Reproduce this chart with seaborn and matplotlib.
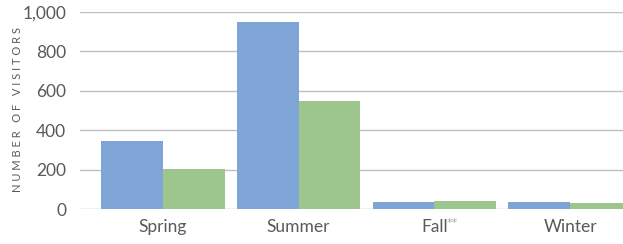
import pandas as pd
import matplotlib.pyplot as plt
import seaborn as sns

# Visitor counts
seasons = ["Spring", "Summer", "Fall", "Winter"]
series_a = [345, 950, 35, 35]
series_b = [205, 550, 40, 30]
yticks = [0, 200, 400, 600, 800, 1000]
ytick_labels = ["0", "200", "400", "600", "800", "1,000"]

data = pd.DataFrame({
    "Season": seasons * 2,
    "Visitors": series_a + series_b,
    "Group": ["A"] * 4 + ["B"] * 4,
})

sns.set_style("white")
plt.rcParams["font.family"] = ["Lato", "DejaVu Sans"]

fig = plt.figure(figsize=(6.23, 2.44), dpi=100)
ax = fig.add_axes([80 / 623, 1 - 209 / 244, 543 / 623, 197 / 244])

sns.barplot(data=data, x="Season", y="Visitors", hue="Group",
            palette=["#7FA5D7", "#9DC58E"], width=0.91, gap=0,
            saturation=1, legend=False, linewidth=0, ax=ax, zorder=3)

ax.set_xlim(-0.61, 3.39)
ax.set_ylim(0, 1000)
ax.set_yticks(yticks)
ax.set_yticklabels(ytick_labels)
ax.grid(axis="y", color="#BFBFBF", linewidth=1, zorder=0)
ax.set_axisbelow(True)
for s in ax.spines.values():
    s.set_visible(False)
ax.tick_params(axis="both", length=0, labelsize=12.5, labelcolor="#595959")
ax.tick_params(axis="y", pad=10)
ax.tick_params(axis="x", pad=7)
ax.set_xlabel("")
ax.set_ylabel("")

# spaced-out axis title
fig.text(18 / 623, 1 - 110 / 244, "N U M B E R   O F   V I S I T O R S",
         rotation=90, fontsize=8, color="#595959", ha="center", va="center")

# superscript after "Fall"
ax.text(2.09, -0.045, "**", transform=ax.get_xaxis_transform(), fontsize=8,
        family="DejaVu Sans", color="#A6A6A6", ha="left", va="top")

fig.savefig("out.png", dpi=100)
